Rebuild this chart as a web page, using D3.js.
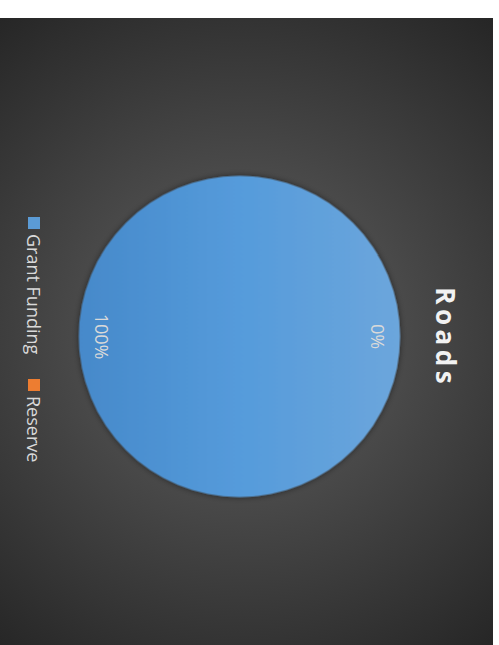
<!DOCTYPE html>
<html>
<head>
<meta charset="utf-8">
<script src="https://cdn.jsdelivr.net/npm/d3@7"></script>
<style>
  html, body { margin: 0; padding: 0; background: #ffffff; }
  svg { display: block; }
</style>
</head>
<body>
<script>
// Funding split for the Roads budget line
const categories = ["Grant Funding", "Reserve"];
const values = [100, 0];
const seriesColors = ["#5b9bd5", "#ed7d31"];
const title = "Roads";

const W = 499, H = 645;
// chart canvas (drawn upright, then turned a quarter turn clockwise)
const CW = 627, CH = 493;

const svg = d3.select("body").append("svg")
  .attr("width", W).attr("height", H);

const defs = svg.append("defs");

const bgGrad = defs.append("radialGradient")
  .attr("id", "bgGrad")
  .attr("gradientUnits", "userSpaceOnUse")
  .attr("cx", 316).attr("cy", 250).attr("r", 400);
bgGrad.append("stop").attr("offset", 0).attr("stop-color", "#555555");
bgGrad.append("stop").attr("offset", 0.4).attr("stop-color", "#4a4a4a");
bgGrad.append("stop").attr("offset", 1).attr("stop-color", "#262626");

// slice shading: lighter towards the top of the upright pie
const pieGrad = defs.append("linearGradient")
  .attr("id", "pieGrad")
  .attr("x1", 0).attr("y1", 0).attr("x2", 0).attr("y2", 1);
pieGrad.append("stop").attr("offset", 0).attr("stop-color", "#6ca6dc");
pieGrad.append("stop").attr("offset", 0.5).attr("stop-color", "#559bdb");
pieGrad.append("stop").attr("offset", 1).attr("stop-color", "#4689ca");

const shadow = defs.append("filter")
  .attr("id", "pieShadow")
  .attr("x", "-20%").attr("y", "-20%").attr("width", "140%").attr("height", "140%");
shadow.append("feDropShadow")
  .attr("dx", 0).attr("dy", 0)
  .attr("stdDeviation", 3)
  .attr("flood-color", "#000000")
  .attr("flood-opacity", 0.55);

const chart = svg.append("g")
  .attr("transform", `translate(493,18) rotate(90)`);

chart.append("rect")
  .attr("x", 0).attr("y", 0)
  .attr("width", CW).attr("height", CH)
  .attr("fill", "url(#bgGrad)");

// Title (x offset by half the trailing letter-spacing so the glyphs stay centred)
const titleSpacing = 4.5;
chart.append("text")
  .attr("x", 317.5 + titleSpacing / 2).attr("y", 47)
  .attr("text-anchor", "middle")
  .attr("dominant-baseline", "central")
  .attr("font-family", "'Open Sans', sans-serif")
  .attr("font-weight", 700)
  .attr("font-size", 26)
  .attr("letter-spacing", titleSpacing)
  .attr("fill", "#f2f2f2")
  .text(title);

// Pie
const cx = 318.5, cy = 253.5, R = 160.5;
const pie = d3.pie().sort(null).value(d => d.value);
const data = pie(categories.map((c, i) => ({ name: c, value: values[i] })));
const total = d3.sum(values);

const arc = d3.arc().innerRadius(0).outerRadius(R);
const labelArc = d3.arc().innerRadius(138).outerRadius(138);

const pg = chart.append("g").attr("transform", `translate(${cx},${cy})`);

pg.selectAll("path.slice")
  .data(data.filter(d => d.value > 0))
  .join("path")
  .attr("class", "slice")
  .attr("d", arc)
  .attr("fill", (d, i) => d.index === 0 ? "url(#pieGrad)" : seriesColors[d.index])
  .attr("filter", "url(#pieShadow)");

pg.selectAll("text.lbl")
  .data(data)
  .join("text")
  .attr("class", "lbl")
  .attr("transform", d => `translate(${labelArc.centroid(d)})`)
  .attr("text-anchor", "middle")
  .attr("dominant-baseline", "central")
  .attr("font-family", "'Open Sans', sans-serif")
  .attr("font-size", 18)
  .attr("fill", "#d9d9d9")
  .text(d => d3.format(".0%")(d.value / total));

// Legend
const legendX = [199, 361];
const lg = chart.append("g");
const items = lg.selectAll("g.item")
  .data(categories)
  .join("g")
  .attr("class", "item")
  .attr("transform", (d, i) => `translate(${legendX[i]},453)`);

items.append("rect")
  .attr("x", 0).attr("y", 0)
  .attr("width", 12).attr("height", 12)
  .attr("fill", (d, i) => seriesColors[i]);

items.append("text")
  .attr("x", 17).attr("y", 6)
  .attr("dominant-baseline", "central")
  .attr("font-family", "'Open Sans', sans-serif")
  .attr("font-size", 18)
  .attr("fill", "#d9d9d9")
  .text(d => d);
</script>
</body>
</html>
